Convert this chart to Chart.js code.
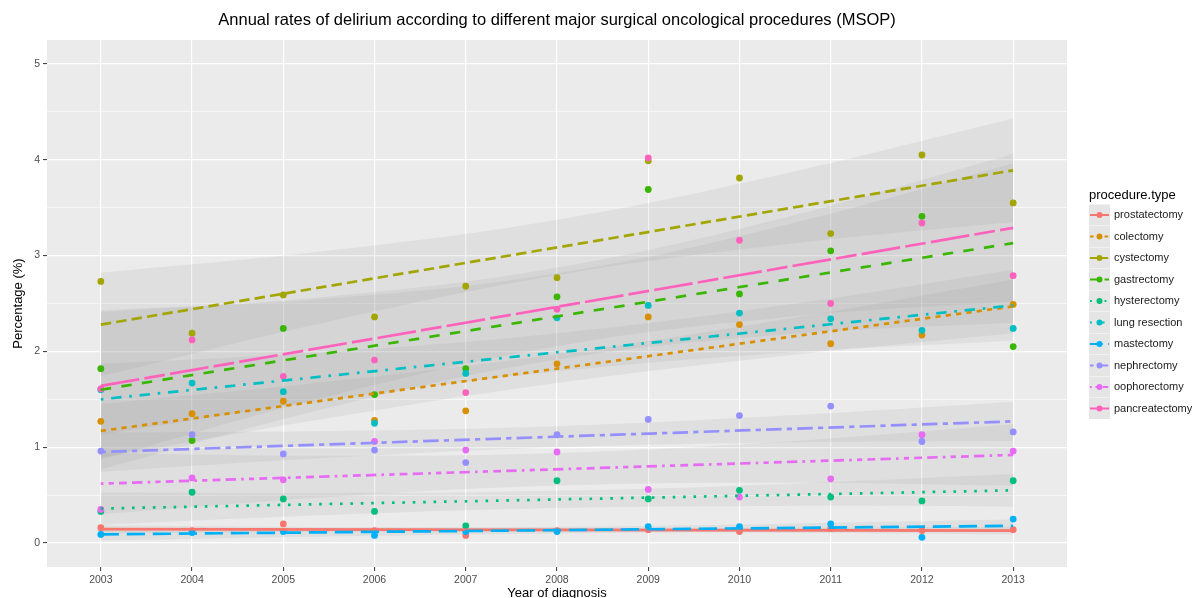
<!DOCTYPE html>
<html>
<head>
<meta charset="utf-8">
<script src="https://cdn.jsdelivr.net/npm/chart.js@4.4.0/dist/chart.umd.min.js"></script>
<style>
  html, body { margin: 0; padding: 0; background: #fff; }
  #wrap { width: 1192px; height: 598px; }
</style>
</head>
<body>
<div id="wrap"><canvas id="chart" width="1192" height="598"></canvas></div>
<script>
// Jahre und Eingriffe
const years = [2003, 2004, 2005, 2006, 2007, 2008, 2009, 2010, 2011, 2012, 2013];
const procedures = ['prostatectomy', 'colectomy', 'cystectomy', 'gastrectomy', 'hysterectomy',
    'lung resection', 'mastectomy', 'nephrectomy', 'oophorectomy', 'pancreatectomy'];
const colors = ['#F8766D', '#D89000', '#A3A500', '#39B600', '#00BF7D',
    '#00BFC4', '#00B0F6', '#9590FF', '#E76BF3', '#FF62BC'];

// Delir-Raten (%) pro Jahr
const prostatectomy = [0.16, 0.13, 0.20, 0.13, 0.08, 0.13, 0.14, 0.12, 0.15, 0.13, 0.14];
const colectomy = [1.27, 1.35, 1.48, 1.28, 1.38, 1.87, 2.36, 2.28, 2.08, 2.17, 2.49];
const cystectomy = [2.73, 2.19, 2.59, 2.36, 2.68, 2.77, 3.99, 3.81, 3.23, 4.05, 3.55];
const gastrectomy = [1.82, 1.07, 2.24, 1.55, 1.82, 2.57, 3.69, 2.60, 3.05, 3.41, 2.05];
const hysterectomy = [0.33, 0.53, 0.46, 0.33, 0.18, 0.65, 0.46, 0.55, 0.48, 0.44, 0.65];
const lungResection = [1.60, 1.67, 1.58, 1.25, 1.77, 2.35, 2.48, 2.40, 2.34, 2.22, 2.24];
const mastectomy = [0.09, 0.11, 0.12, 0.08, 0.12, 0.12, 0.17, 0.17, 0.20, 0.06, 0.25];
const nephrectomy = [0.96, 1.13, 0.93, 0.97, 0.84, 1.13, 1.29, 1.33, 1.43, 1.06, 1.16];
const oophorectomy = [0.35, 0.68, 0.66, 1.06, 0.97, 0.95, 0.56, 0.48, 0.67, 1.13, 0.96];
const pancreatectomy = [1.61, 2.12, 1.74, 1.91, 1.57, 2.44, 4.02, 3.16, 2.50, 3.34, 2.79];
const seriesValues = [prostatectomy, colectomy, cystectomy, gastrectomy, hysterectomy,
    lungResection, mastectomy, nephrectomy, oophorectomy, pancreatectomy];

const fitStart = [0.145, 1.17, 2.28, 1.60, 0.36, 1.50, 0.09, 0.95, 0.62, 1.64];
const fitEnd = [0.13, 2.47, 3.89, 3.13, 0.55, 2.48, 0.18, 1.27, 0.92, 3.29];

// halbe Breite des Konfidenzbandes bei 2003/2013, 2005.5/2010.5 und 2008
const bandYears = [2003, 2005.5, 2008, 2010.5, 2013];
const bandEnd = [0.04, 0.28, 0.54, 0.83, 0.17, 0.37, 0.065, 0.205, 0.32, 0.77];
const bandQuarter = [0.025, 0.19, 0.37, 0.57, 0.115, 0.25, 0.045, 0.14, 0.215, 0.52];
const bandMid = [0.02, 0.15, 0.29, 0.45, 0.09, 0.20, 0.035, 0.11, 0.17, 0.41];

// Achsen
const xTicks = years;
const yGrid = [0, 0.5, 1, 1.5, 2, 2.5, 3, 3.5, 4, 4.5, 5];

// Linientypen wie in ggplot (Einheit * Linienbreite)
const u = 2.6;
const dashes = [[], [2, 2], [4, 2], [4, 4], [1, 3], [1, 3, 4, 3], [7, 3], [2, 2, 6, 2],
    [1, 2, 2, 2, 3, 2, 4, 2], [15, 2, 8, 2]].map(d => d.map(v => v * u));

const bandFill = 'rgba(150,150,150,0.13)';

const datasets = [];
procedures.forEach((name, i) => {
    const fitAt = t => fitStart[i] + (fitEnd[i] - fitStart[i]) * (t - 2003) / 10;
    const hw = [bandEnd[i], bandQuarter[i], bandMid[i], bandQuarter[i], bandEnd[i]];
    datasets.push({
        label: name + ' low',
        data: bandYears.map((x, k) => ({ x: x, y: fitAt(x) - hw[k] })),
        borderColor: 'rgba(0,0,0,0)', borderWidth: 0, pointRadius: 0,
        fill: false, tension: 0.4, order: 300 - i
    });
    datasets.push({
        label: name + ' high',
        data: bandYears.map((x, k) => ({ x: x, y: fitAt(x) + hw[k] })),
        borderColor: 'rgba(0,0,0,0)', borderWidth: 0, pointRadius: 0,
        fill: '-1', backgroundColor: bandFill, tension: 0.4, order: 300 - i
    });
    datasets.push({
        label: name,
        data: years.map((x, k) => ({ x: x, y: seriesValues[i][k] })),
        showLine: false, pointRadius: 3.4, pointBorderWidth: 0,
        pointBackgroundColor: colors[i], borderColor: colors[i], order: 200 - i
    });
    datasets.push({
        label: name + ' fit',
        data: [{ x: 2003, y: fitStart[i] }, { x: 2013, y: fitEnd[i] }],
        borderColor: colors[i], borderWidth: 2.7, borderDash: dashes[i],
        borderCapStyle: 'butt', pointRadius: 0, fill: false, order: 100 - i
    });
});

// Panel-Hintergrund
const panelBg = {
    id: 'panelBg',
    beforeDraw(chart) {
        const { ctx, chartArea: a } = chart;
        ctx.save();
        ctx.fillStyle = '#EBEBEB';
        ctx.fillRect(a.left, a.top, a.right - a.left, a.bottom - a.top);
        ctx.restore();
    }
};

// Titel, Achsentitel und Legende
const texts = {
    id: 'texts',
    afterDraw(chart) {
        const { ctx, chartArea: a } = chart;
        const cx = (a.left + a.right) / 2;
        ctx.save();
        ctx.fillStyle = '#000';
        ctx.textAlign = 'center';
        ctx.textBaseline = 'middle';
        ctx.font = '16.5px "Liberation Sans", Arial, sans-serif';
        ctx.fillText('Annual rates of delirium according to different major surgical oncological procedures (MSOP)', cx, 20);
        ctx.font = '13px "Liberation Sans", Arial, sans-serif';
        ctx.fillText('Year of diagnosis', cx, 593);
        ctx.save();
        ctx.translate(18, (a.top + a.bottom) / 2);
        ctx.rotate(-Math.PI / 2);
        ctx.fillText('Percentage (%)', 0, 0);
        ctx.restore();

        // Legende
        ctx.textAlign = 'left';
        ctx.font = '13px "Liberation Sans", Arial, sans-serif';
        ctx.fillText('procedure.type', 1089, 195);
        ctx.font = '11px "Liberation Sans", Arial, sans-serif';
        procedures.forEach((name, i) => {
            const y = 215 + 21.5 * i;
            ctx.fillStyle = '#F2F2F2';
            ctx.fillRect(1089, y - 10.5, 21, 21);
            ctx.fillStyle = bandFill;
            ctx.fillRect(1089, y - 10.5, 21, 21);
            ctx.strokeStyle = colors[i];
            ctx.lineWidth = 2;
            ctx.setLineDash(dashes[i].map(v => v * 0.7));
            ctx.beginPath();
            ctx.moveTo(1090, y);
            ctx.lineTo(1109, y);
            ctx.stroke();
            ctx.setLineDash([]);
            ctx.fillStyle = colors[i];
            ctx.beginPath();
            ctx.arc(1099.5, y, 3, 0, Math.PI * 2);
            ctx.fill();
            ctx.fillStyle = '#1A1A1A';
            ctx.fillText(name, 1114, y);
        });
        ctx.restore();
    }
};

new Chart(document.getElementById('chart'), {
    type: 'line',
    data: { datasets: datasets },
    options: {
        responsive: false,
        animation: false,
        events: [],
        layout: { padding: { top: 40, right: 125, bottom: 0, left: 0 } },
        plugins: { legend: { display: false }, tooltip: { enabled: false }, title: { display: false } },
        scales: {
            x: {
                type: 'linear', min: 2002.41, max: 2013.59,
                afterBuildTicks: s => { s.ticks = xTicks.map(v => ({ value: v })); },
                afterFit: s => { s.height = 31; },
                border: { display: false },
                grid: { color: '#FFFFFF', lineWidth: 1.2, tickColor: '#333333', tickLength: 4, tickWidth: 1 },
                ticks: {
                    autoSkip: false, maxRotation: 0, padding: 3, color: '#4D4D4D',
                    font: { size: 10.5, family: '"Liberation Sans", Arial, sans-serif' },
                    callback: v => String(v)
                }
            },
            y: {
                type: 'linear', min: -0.25, max: 5.25,
                afterBuildTicks: s => { s.ticks = yGrid.map(v => ({ value: v })); },
                afterFit: s => { s.width = 47; },
                border: { display: false },
                grid: {
                    color: '#FFFFFF',
                    lineWidth: c => (c.tick && Number.isInteger(c.tick.value)) ? 1.2 : 0.6,
                    tickColor: c => (c.tick && Number.isInteger(c.tick.value)) ? '#333333' : 'rgba(0,0,0,0)',
                    tickLength: 4, tickWidth: 1
                },
                ticks: {
                    padding: 3, color: '#4D4D4D',
                    font: { size: 10.5, family: '"Liberation Sans", Arial, sans-serif' },
                    callback: v => Number.isInteger(v) ? String(v) : ''
                }
            }
        }
    },
    plugins: [panelBg, texts]
});
</script>
</body>
</html>
